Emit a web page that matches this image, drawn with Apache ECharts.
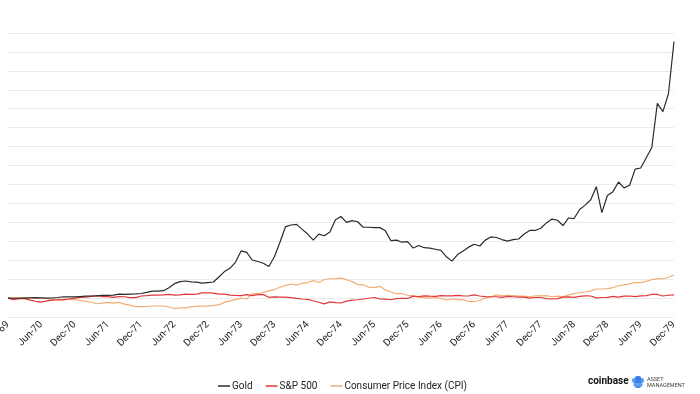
<!DOCTYPE html>
<html>
<head>
<meta charset="utf-8">
<script src="https://cdn.jsdelivr.net/npm/echarts@6/dist/echarts.min.js"></script>
<style>
html,body{margin:0;padding:0;background:#fff;}
#chart{width:700px;height:394px;}
</style>
</head>
<body>
<div id="chart"></div>
<script>
// Monthly categories Dec-69 .. Dec-79
var monthNames = ['Jan','Feb','Mar','Apr','May','Jun','Jul','Aug','Sep','Oct','Nov','Dec'];
var categories = ['Dec-69'];
for (var y = 70; y <= 79; y++) {
  for (var m = 0; m < 12; m++) categories.push(monthNames[m] + '-' + y);
}

var seriesNames = ['Gold', 'S&P 500', 'Consumer Price Index (CPI)'];

// Gold, indexed (Dec-69 = 1)
var gold = [1.00,
  0.99,0.99,1.00,1.01,1.02,1.01,1.00,1.01,1.03,1.07,1.06,1.06,
  1.08,1.10,1.11,1.12,1.15,1.14,1.16,1.21,1.19,1.21,1.22,1.24,
  1.30,1.37,1.37,1.39,1.55,1.76,1.87,1.90,1.86,1.84,1.79,1.82,
  1.85,2.11,2.40,2.57,2.90,3.49,3.41,3.01,2.93,2.84,2.67,3.18,
  3.95,4.77,4.86,4.89,4.63,4.38,4.06,4.38,4.29,4.49,5.14,5.31,
  5.00,5.09,5.03,4.74,4.74,4.72,4.72,4.55,4.03,4.06,3.95,3.98,
  3.64,3.78,3.66,3.64,3.58,3.52,3.18,2.95,3.30,3.49,3.69,3.84,
  3.75,4.06,4.23,4.20,4.09,4.01,4.09,4.12,4.38,4.57,4.57,4.69,
  4.97,5.17,5.11,4.83,5.23,5.20,5.68,5.91,6.19,6.88,5.51,6.42,
  6.62,7.13,6.82,6.96,7.81,7.87,8.41,8.95,11.28,10.85,11.79,14.55];

// S&P 500, indexed (Dec-69 = 1)
var sp500 = [1.00,
  0.92,0.97,0.97,0.89,0.83,0.79,0.85,0.89,0.91,0.90,0.95,1.00,
  1.04,1.05,1.09,1.13,1.08,1.08,1.04,1.08,1.07,1.02,1.02,1.11,
  1.13,1.16,1.16,1.17,1.19,1.16,1.17,1.21,1.20,1.21,1.27,1.28,
  1.26,1.21,1.21,1.16,1.14,1.13,1.18,1.13,1.18,1.18,1.04,1.06,
  1.05,1.05,1.02,0.98,0.95,0.93,0.86,0.78,0.69,0.80,0.76,0.74,
  0.84,0.89,0.91,0.95,0.99,1.03,0.96,0.94,0.91,0.97,0.99,0.98,
  1.10,1.08,1.12,1.10,1.09,1.13,1.12,1.12,1.14,1.12,1.11,1.17,
  1.11,1.08,1.07,1.07,1.04,1.09,1.07,1.05,1.05,1.00,1.03,1.03,
  0.97,0.95,0.97,1.05,1.06,1.04,1.09,1.12,1.11,1.01,1.03,1.04,
  1.09,1.05,1.10,1.11,1.08,1.12,1.13,1.19,1.19,1.11,1.15,1.17];

// CPI, indexed (Dec-69 = 1)
var cpi = [1.00,
  1.03,1.02,1.02,1.02,1.00,1.00,0.98,0.90,0.93,0.93,0.93,0.92,
  0.88,0.83,0.78,0.70,0.73,0.77,0.73,0.77,0.68,0.63,0.55,0.55,
  0.55,0.58,0.58,0.58,0.53,0.45,0.48,0.48,0.53,0.57,0.57,0.57,
  0.60,0.65,0.77,0.85,0.92,1.00,0.95,1.23,1.23,1.30,1.38,1.45,
  1.57,1.67,1.73,1.68,1.78,1.82,1.92,1.82,1.98,2.02,2.03,2.05,
  1.97,1.87,1.72,1.70,1.58,1.55,1.62,1.43,1.32,1.23,1.23,1.15,
  1.12,1.05,1.02,1.00,1.03,0.98,0.90,0.95,0.92,0.92,0.82,0.82,
  0.87,1.00,1.07,1.17,1.12,1.15,1.13,1.10,1.10,1.07,1.12,1.12,
  1.13,1.07,1.10,1.08,1.17,1.23,1.28,1.32,1.38,1.48,1.48,1.50,
  1.55,1.65,1.70,1.75,1.82,1.82,1.88,1.97,2.03,2.02,2.10,2.22];

var colors = ['#2b2b2b', '#e0383a', '#f2ae74'];
var fontFam = 'Roboto, "Noto Sans", sans-serif';

var chart = echarts.init(document.getElementById('chart'), null, {renderer: 'canvas'});

function mkSeries(name, data, i) {
  return {
    name: name, type: 'line', data: data, symbol: 'none', smooth: false,
    lineStyle: {width: 1.2, color: colors[i]}, itemStyle: {color: colors[i]},
    z: 3 - i
  };
}

chart.setOption({
  animation: false,
  backgroundColor: '#ffffff',
  grid: {left: 8, right: 26, top: 33, bottom: 77, containLabel: false, outerBoundsMode: 'none'},
  xAxis: {
    type: 'category', data: categories, boundaryGap: false,
    axisLine: {show: false}, axisTick: {show: false},
    axisLabel: {interval: 5, rotate: 45, fontSize: 10, color: '#222', margin: 6, fontFamily: fontFam},
    splitLine: {show: false}
  },
  yAxis: {
    type: 'value', min: 0, max: 15, interval: 1,
    axisLabel: {show: false}, axisLine: {show: false}, axisTick: {show: false},
    splitLine: {lineStyle: {color: '#ebebeb', width: 1}}
  },
  legend: {
    data: seriesNames, left: 213, top: 376, itemGap: 13,
    icon: 'rect', itemWidth: 12, itemHeight: 1.5,
    textStyle: {fontSize: 10, color: '#222', fontFamily: fontFam, padding: [0,0,0,-3]}
  },
  series: [mkSeries(seriesNames[0], gold, 0), mkSeries(seriesNames[1], sp500, 1), mkSeries(seriesNames[2], cpi, 2)],
  graphic: [
    {type: 'text', left: 588, top: 376, style: {text: 'coinbase', font: 'bold 10px ' + fontFam, fill: '#111'}},
    {type: 'group', left: 632, top: 376, children: [
      {type: 'rect', shape: {x: 0, y: 2, width: 12, height: 5, r: 2}, style: {fill: '#5aa0f0'}},
      {type: 'rect', shape: {x: 3, y: 0, width: 6, height: 12, r: 2}, style: {fill: '#3d7fe6'}},
      {type: 'rect', shape: {x: 1.5, y: 7, width: 9, height: 3.5, r: 1}, style: {fill: '#5aa0f0'}}
    ]},
    {type: 'text', left: 647, top: 377, style: {text: 'ASSET\nMANAGEMENT', font: '5.5px ' + fontFam, fill: '#444', lineHeight: 6}}
  ]
});
</script>
</body>
</html>
